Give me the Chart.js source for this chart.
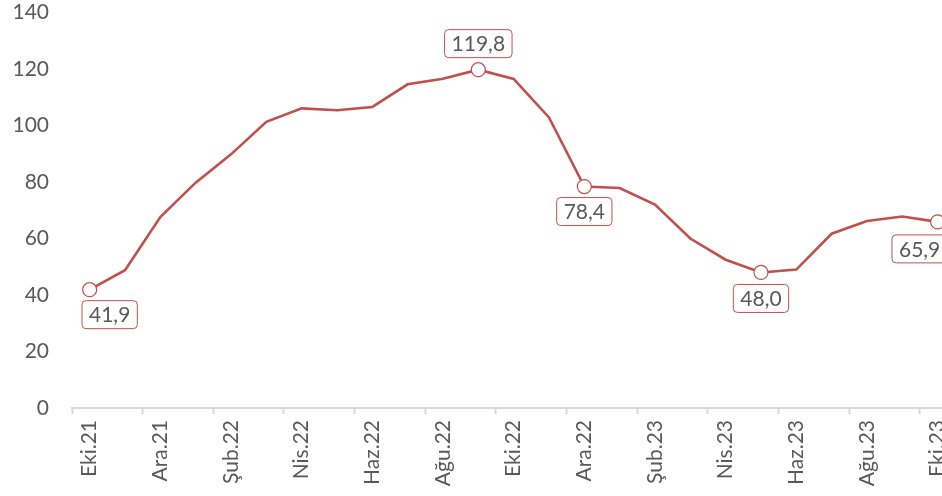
<!DOCTYPE html>
<html lang="tr">
<head>
  <meta charset="UTF-8">
  <title>Aylık seri</title>
  <script src="https://cdn.jsdelivr.net/npm/chart.js"></script>
  <style>
    html, body { margin: 0; padding: 0; background: #fff; overflow: hidden; }
    #wrap { width: 969px; height: 511px; margin-top: -15px; }
  </style>
</head>
<body>
<div id="wrap">
  <canvas id="lineChart"></canvas>
</div>
<script>
  const months = ['Eki.21', 'Kas.21', 'Ara.21', 'Oca.22', 'Şub.22', 'Mar.22', 'Nis.22', 'May.22', 'Haz.22',
    'Tem.22', 'Ağu.22', 'Eyl.22', 'Eki.22', 'Kas.22', 'Ara.22', 'Oca.23', 'Şub.23', 'Mar.23', 'Nis.23',
    'May.23', 'Haz.23', 'Tem.23', 'Ağu.23', 'Eyl.23', 'Eki.23'];
  const values = [41.9, 48.8, 67.6, 79.8, 89.8, 101.3, 106.1, 105.4, 106.6, 114.6, 116.6, 119.8, 116.5,
    102.9, 78.4, 77.9, 72.0, 60.0, 52.5, 48.0, 49.0, 61.7, 66.2, 67.8, 65.9];
  const labelled = [0, 11, 14, 19, 24];
  const yTicks = [0, 20, 40, 60, 80, 100, 120, 140];

  const red = '#c0504d';
  const grey = '#595959';
  const fontFamily = 'Lato, "Open Sans", sans-serif';

  // boxed value labels, like the excel callouts
  const boxLabels = {
    id: 'boxLabels',
    afterDatasetsDraw(chart, args, opts) {
      const ctx = chart.ctx;
      const meta = chart.getDatasetMeta(0);
      ctx.save();
      ctx.font = '21px ' + fontFamily;
      ctx.textAlign = 'center';
      ctx.textBaseline = 'middle';
      labelled.forEach(i => {
        const pt = meta.data[i];
        const off = opts.offsets[i] || [0, 25];
        const text = values[i].toFixed(1).replace('.', ',');
        const w = ctx.measureText(text).width + 14;
        const h = 28;
        const cx = pt.x + off[0];
        const cy = pt.y + off[1];
        ctx.beginPath();
        ctx.roundRect(cx - w / 2, cy - h / 2, w, h, 4);
        ctx.fillStyle = '#fff';
        ctx.fill();
        ctx.lineWidth = 1;
        ctx.strokeStyle = red;
        ctx.stroke();
        ctx.fillStyle = grey;
        ctx.fillText(text, cx, cy + 1);
      });
      ctx.restore();
    }
  };

  new Chart(document.getElementById('lineChart'), {
    type: 'line',
    data: {
      labels: months,
      datasets: [{
        data: values,
        borderColor: red,
        borderWidth: 2.6,
        tension: 0,
        pointRadius: c => labelled.includes(c.dataIndex) ? 7 : 0,
        pointBackgroundColor: '#fff',
        pointBorderColor: red,
        pointBorderWidth: 1.2
      }]
    },
    options: {
      responsive: true,
      maintainAspectRatio: false,
      animation: false,
      layout: { padding: { top: 2, right: 0, left: 0, bottom: 0 } },
      plugins: {
        legend: { display: false },
        tooltip: { enabled: false },
        boxLabels: {
          offsets: { 0: [20, 25], 11: [0, -26], 14: [0, 25], 19: [0, 26], 24: [-18, 27] }
        }
      },
      scales: {
        x: {
          offset: true,
          grid: {
            offset: true,
            drawOnChartArea: false,
            tickLength: 6,
            tickWidth: 2,
            tickColor: c => c.index % 2 === 0 ? '#d9d9d9' : 'rgba(0,0,0,0)'
          },
          border: { color: '#d9d9d9', width: 2 },
          ticks: {
            autoSkip: false,
            maxRotation: 90,
            minRotation: 90,
            padding: 6,
            color: grey,
            font: { family: fontFamily, size: 21 },
            callback: (v, i) => i % 2 === 0 ? months[i] : ''
          },
          afterFit: s => { s.height = 88; }
        },
        y: {
          min: 0,
          max: 140,
          grid: { display: false },
          border: { display: false },
          afterBuildTicks: s => { s.ticks = yTicks.map(v => ({ value: v })); },
          ticks: {
            padding: 15,
            color: grey,
            font: { family: fontFamily, size: 21 }
          },
          afterFit: s => { s.width = 72; }
        }
      }
    },
    plugins: [boxLabels]
  });
</script>
</body>
</html>
